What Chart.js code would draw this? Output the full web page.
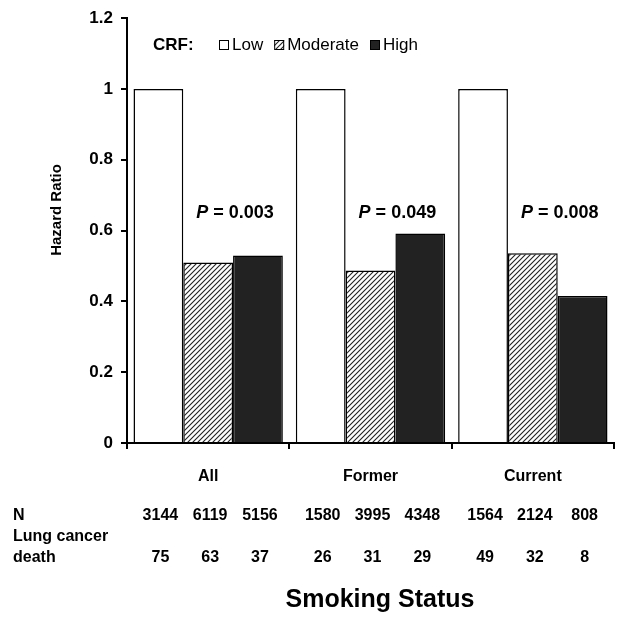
<!DOCTYPE html>
<html lang="en">

<head>
    <meta charset="UTF-8">
    <title>Hazard Ratio by Smoking Status</title>
    <style>
        body { margin: 0; background: #fff; }
        .chart-box { width: 624px; height: 623px; position: relative; }
    </style>
</head>

<body>
    <div class="chart-box">
        <canvas id="myChart"></canvas>
    </div>
</body>

</html>

<script src="https://cdn.jsdelivr.net/npm/chart.js"></script>
<script>
    // dados
    const categorias = ['All', 'Former', 'Current'];
    const niveis = ['Low', 'Moderate', 'High'];
    const hrLow = [1, 1, 1];
    const hrModerate = [0.51, 0.487, 0.536];
    const hrHigh = [0.53, 0.592, 0.415];
    const valoresP = ['0.003', '0.049', '0.008'];
    const nLow = [3144, 1580, 1564];
    const nModerate = [6119, 3995, 2124];
    const nHigh = [5156, 4348, 808];
    const mortesLow = [75, 26, 49];
    const mortesModerate = [63, 31, 32];
    const mortesHigh = [37, 29, 8];
    const ticksY = [0, 0.2, 0.4, 0.6, 0.8, 1, 1.2];

    const fonte = "'Liberation Sans', Arial, sans-serif";

    // hachura diagonal da barra Moderate
    function criarHachura() {
        const c = document.createElement('canvas');
        c.width = 5;
        c.height = 5;
        const g = c.getContext('2d');
        g.fillStyle = '#fff';
        g.fillRect(0, 0, 5, 5);
        g.strokeStyle = '#222';
        g.lineWidth = 1.1;
        g.beginPath();
        g.moveTo(0, 5); g.lineTo(5, 0);
        g.moveTo(-1, 1); g.lineTo(1, -1);
        g.moveTo(4, 6); g.lineTo(6, 4);
        g.stroke();
        return g.createPattern(c, 'repeat');
    }
    const hachura = criarHachura();

    const linhasTabela = [
        { rotulo: 'N', y: 516, valores: [nLow, nModerate, nHigh] },
        { rotulo: 'Lung cancer', y: 537, valores: null },
        { rotulo: 'death', y: 558, valores: [mortesLow, mortesModerate, mortesHigh] }
    ];

    const pluginExtras = {
        id: 'extras',
        afterDraw(chart) {
            const ctx = chart.ctx;
            ctx.save();
            ctx.fillStyle = '#000';
            ctx.textBaseline = 'middle';

            // legenda
            ctx.font = 'bold 17px ' + fonte;
            ctx.textAlign = 'left';
            ctx.fillText('CRF:', 153, 45);
            let x = 219;
            chart.data.datasets.forEach(ds => {
                ctx.fillStyle = ds.backgroundColor;
                ctx.fillRect(x, 40, 10, 10);
                ctx.strokeStyle = '#000';
                ctx.lineWidth = 1;
                ctx.strokeRect(x + 0.5, 40.5, 9, 9);
                ctx.fillStyle = '#000';
                ctx.font = '17px ' + fonte;
                ctx.fillText(ds.label, x + 13, 45);
                x += 13 + ctx.measureText(ds.label).width + 11;
            });

            // valores de P entre as barras Moderate e High
            const metaMod = chart.getDatasetMeta(1);
            const metaHigh = chart.getDatasetMeta(2);
            valoresP.forEach((p, i) => {
                const cx = (metaMod.data[i].x + metaHigh.data[i].x) / 2 + 2;
                ctx.font = 'italic bold 18px ' + fonte;
                const w1 = ctx.measureText('P').width;
                ctx.font = 'bold 18px ' + fonte;
                const resto = ' = ' + p;
                const w2 = ctx.measureText(resto).width;
                const x0 = cx - (w1 + w2) / 2;
                ctx.font = 'italic bold 18px ' + fonte;
                ctx.fillText('P', x0, 213);
                ctx.font = 'bold 18px ' + fonte;
                ctx.fillText(resto, x0 + w1, 213);
            });

            // tabela de N e mortes
            ctx.font = 'bold 16px ' + fonte;
            linhasTabela.forEach(linha => {
                ctx.textAlign = 'left';
                ctx.fillText(linha.rotulo, 13, linha.y);
                if (!linha.valores) return;
                ctx.textAlign = 'center';
                linha.valores.forEach((serie, d) => {
                    const meta = chart.getDatasetMeta(d);
                    serie.forEach((v, i) => {
                        ctx.fillText(String(v), meta.data[i].x + 2, linha.y);
                    });
                });
            });

            // titulos dos eixos
            ctx.textAlign = 'center';
            ctx.font = 'bold 25px ' + fonte;
            ctx.fillText('Smoking Status', 380, 600);
            ctx.translate(57, 210);
            ctx.rotate(-Math.PI / 2);
            ctx.font = 'bold 15px ' + fonte;
            ctx.fillText('Hazard Ratio', 0, 0);
            ctx.restore();
        }
    };

    const ctx = document.getElementById('myChart');

    new Chart(ctx, {
        type: 'bar',
        data: {
            labels: categorias,
            datasets: [
                {
                    label: niveis[0],
                    data: hrLow,
                    backgroundColor: '#ffffff',
                    borderColor: '#000',
                    borderWidth: 1.5
                },
                {
                    label: niveis[1],
                    data: hrModerate,
                    backgroundColor: hachura,
                    borderColor: '#000',
                    borderWidth: 1.5
                },
                {
                    label: niveis[2],
                    data: hrHigh,
                    backgroundColor: '#222222',
                    borderColor: '#000',
                    borderWidth: 1.5
                }
            ]
        },
        options: {
            responsive: true,
            maintainAspectRatio: false,
            animation: false,
            devicePixelRatio: 1,
            categoryPercentage: 0.92,
            barPercentage: 1,
            layout: { padding: { left: 0, right: 10, top: 18, bottom: 0 } },
            plugins: {
                legend: { display: false },
                tooltip: { enabled: false }
            },
            scales: {
                x: {
                    afterFit(scale) { scale.height = 180; },
                    grid: {
                        offset: true,
                        drawOnChartArea: false,
                        drawTicks: true,
                        tickLength: 6,
                        color: '#000',
                        lineWidth: 2
                    },
                    border: { display: true, color: '#000', width: 2 },
                    ticks: {
                        color: '#000',
                        padding: 18,
                        font: { family: fonte, size: 16, weight: 'bold' }
                    }
                },
                y: {
                    min: 0,
                    max: 1.2,
                    afterFit(scale) { scale.width = 127; },
                    afterBuildTicks(scale) { scale.ticks = ticksY.map(v => ({ value: v })); },
                    grid: {
                        drawOnChartArea: false,
                        drawTicks: true,
                        tickLength: 6,
                        color: '#000',
                        lineWidth: 2
                    },
                    border: { display: true, color: '#000', width: 2 },
                    ticks: {
                        color: '#000',
                        padding: 8,
                        font: { family: fonte, size: 17, weight: 'bold' },
                        callback: v => String(v)
                    }
                }
            }
        },
        plugins: [pluginExtras]
    });
</script>
